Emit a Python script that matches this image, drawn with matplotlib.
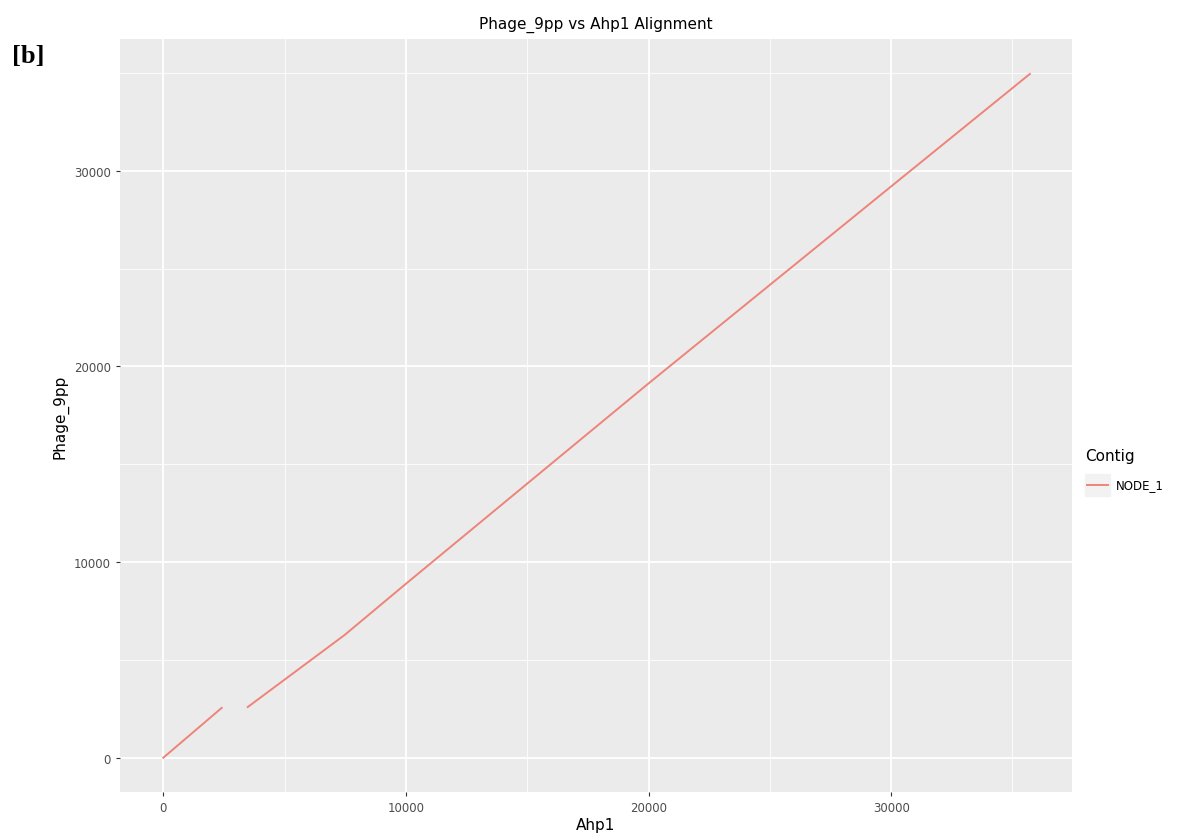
import matplotlib.pyplot as plt
from matplotlib.ticker import MultipleLocator
from matplotlib.lines import Line2D
from matplotlib.patches import Rectangle

# alignment segments (Ahp1 position, Phage_9pp position)
seg1_x = [0, 2410]
seg1_y = [0, 2550]
seg2_x = [3480, 7475, 10000, 20000, 30000, 35720]
seg2_y = [2590, 6275, 8890, 19130, 29200, 34950]
contig = 'NODE_1'
line_color = '#EE8479'

fig = plt.figure(figsize=(12, 8.37), dpi=100)
ax = fig.add_axes([0.1, 0.0526, 0.7933, 0.8996])
ax.set_facecolor('#EBEBEB')

ax.plot(seg1_x, seg1_y, color=line_color, lw=1.4, zorder=3)
ax.plot(seg2_x, seg2_y, color=line_color, lw=1.4, zorder=3)

ax.set_xlim(-1784, 37454)
ax.set_ylim(-1750, 36735)
ax.xaxis.set_major_locator(MultipleLocator(10000))
ax.yaxis.set_major_locator(MultipleLocator(10000))
ax.xaxis.set_minor_locator(MultipleLocator(5000))
ax.yaxis.set_minor_locator(MultipleLocator(5000))
ax.grid(which='major', color='white', lw=1.3)
ax.grid(which='minor', color='white', lw=0.6)
ax.set_axisbelow(True)
for s in ax.spines.values():
    s.set_visible(False)
ax.tick_params(which='major', length=3, color='#333333', labelcolor='#4D4D4D', labelsize=8.5)
ax.tick_params(which='minor', length=0)

ax.set_xlabel('Ahp1', fontsize=11, labelpad=2)
ax.set_ylabel('Phage_9pp', fontsize=11, labelpad=4)
ax.set_title('Phage_9pp vs Ahp1 Alignment', fontsize=11, pad=8)

# ggplot style legend
fig.text(1085 / 1200, 1 - 457 / 837, 'Contig', fontsize=11, va='center')
fig.patches.append(Rectangle((1085 / 1200, 1 - 497 / 837), 25 / 1200, 22 / 837,
                             transform=fig.transFigure, color='#F2F2F2'))
fig.lines.append(Line2D([1087 / 1200, 1108 / 1200], [1 - 486 / 837, 1 - 486 / 837],
                        transform=fig.transFigure, color=line_color, lw=1.4))
fig.text(1116 / 1200, 1 - 486 / 837, contig, fontsize=8.5, va='center')

fig.text(12 / 1200, 1 - 56 / 837, '[b]', fontsize=19, fontweight='bold',
         family='Liberation Serif', va='center')

fig.savefig('out.png', dpi=100)
